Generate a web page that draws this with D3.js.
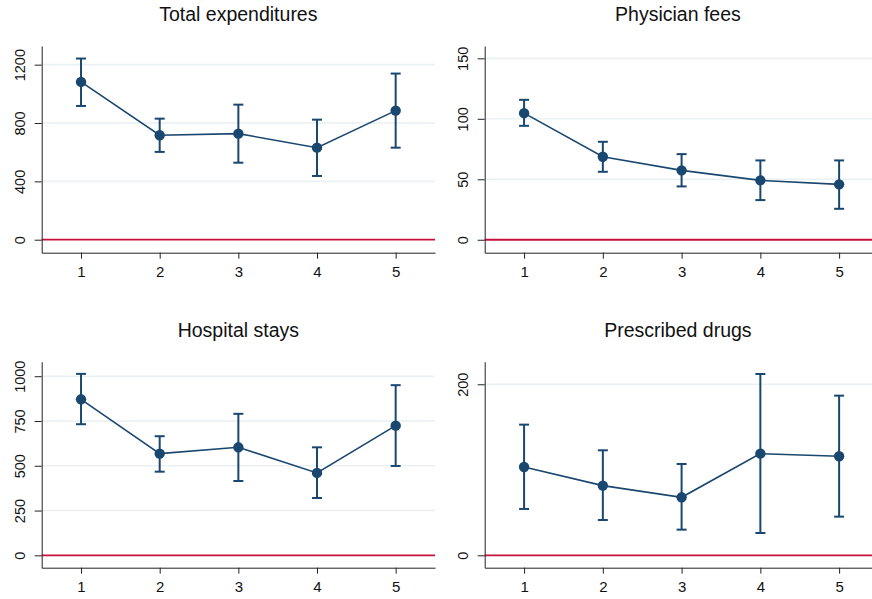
<!DOCTYPE html>
<html>
<head>
<meta charset="utf-8">
<script src="https://cdn.jsdelivr.net/npm/d3@7"></script>
<style>
  body { margin: 0; background: #fff; overflow: hidden; }
  svg { display: block; font-family: "Liberation Sans", Arial, sans-serif; }
</style>
</head>
<body>
<svg width="872" height="599"></svg>
<script>
// groups on the x axis
var groups = [1, 2, 3, 4, 5];

// panel titles
var titles = ["Total expenditures", "Physician fees", "Hospital stays", "Prescribed drugs"];

// point estimates and confidence bounds, one array per panel
var totalMean = [1082, 716, 727, 631, 885];
var totalLow  = [917, 602, 528, 437, 631];
var totalHigh = [1242, 830, 926, 823, 1139];

var physMean = [104.7, 68.6, 57.4, 49.1, 45.8];
var physLow  = [94.2, 56.2, 44.1, 32.8, 25.6];
var physHigh = [115.7, 81.0, 70.8, 65.6, 65.6];

var hospMean = [871, 568, 603, 460, 724];
var hospLow  = [732, 467, 415, 320, 499];
var hospHigh = [1013, 665, 790, 603, 950];

var drugMean = [103.3, 81.5, 67.8, 118.9, 115.8];
var drugLow  = [54.2, 41.3, 30.0, 26.1, 45.2];
var drugHigh = [152.8, 122.8, 106.8, 212.0, 186.7];

// y tick labels per panel
var yTicks = [[0, 400, 800, 1200], [0, 50, 100, 150], [0, 250, 500, 750, 1000], [0, 200]];
// y ranges per panel (as stata padded them)
var yDomains = [[-89, 1328], [-10.7, 160.2], [-69, 1081], [-14.5, 226.4]];

var means = [totalMean, physMean, hospMean, drugMean];
var lows = [totalLow, physLow, hospLow, drugLow];
var highs = [totalHigh, physHigh, hospHigh, drugHigh];

var navy = "#1a476f";
var red = "#c8103c";

var svg = d3.select("svg");

// plot box for each panel (right column runs off the edge of the picture)
var lefts = [41.7, 484.7], rights = [435, 878.5];
var tops = [46, 361.7], bottoms = [252.7, 567.7];

titles.forEach(function(title, i) {
    var col = i % 2, row = Math.floor(i / 2);
    var x0 = lefts[col], x1 = rights[col];
    var y0 = tops[row], y1 = bottoms[row];

    var x = d3.scaleLinear().domain([0.5, 5.5]).range([x0, x1]);
    var y = d3.scaleLinear().domain(yDomains[i]).range([y1, y0]);

    var g = svg.append("g").attr("class", "panel");

    // gridlines
    g.selectAll(".grid")
     .data(yTicks[i].filter(function(t) { return t != 0; }))
     .enter().append("line")
     .attr("x1", x0).attr("x2", x1)
     .attr("y1", function(d) { return y(d); })
     .attr("y2", function(d) { return y(d); })
     .attr("stroke", "#e9f1f3")
     .attr("stroke-width", 1.6);

    // zero reference line
    g.append("line")
     .attr("x1", x0).attr("x2", x1)
     .attr("y1", y(0)).attr("y2", y(0))
     .attr("stroke", red)
     .attr("stroke-width", 1.8);

    // y axis
    var yAxis = g.append("g")
        .attr("transform", "translate(" + x0 + ",0)")
        .call(d3.axisLeft(y).tickValues(yTicks[i]).tickSize(7).tickSizeOuter(0).tickFormat(d3.format("d")));
    yAxis.select(".domain").attr("stroke", "#222");
    yAxis.selectAll(".tick line").attr("stroke", "#222");
    yAxis.selectAll(".tick text")
        .attr("transform", "rotate(-90)")
        .attr("x", 0).attr("y", -17).attr("dy", 0)
        .style("text-anchor", "middle")
        .style("font-size", "14.5px")
        .attr("fill", "#111");

    // x axis
    var xAxis = g.append("g")
        .attr("transform", "translate(0," + y1 + ")")
        .call(d3.axisBottom(x).tickValues(groups).tickSize(6).tickSizeOuter(0).tickFormat(d3.format("d")));
    xAxis.select(".domain").attr("stroke", "#222");
    xAxis.selectAll(".tick line").attr("stroke", "#222");
    xAxis.selectAll(".tick text")
        .attr("y", 24).attr("dy", 0)
        .style("font-size", "15px")
        .attr("fill", "#111");

    // title
    g.append("text")
     .attr("x", (x0 + x1) / 2 - (col == 1 ? 3.7 : 0))
     .attr("y", y0 - 25)
     .attr("text-anchor", "middle")
     .style("font-size", "19.5px")
     .attr("fill", "#111")
     .text(title);

    var data = groups.map(function(k, j) {
        return { k: k, m: means[i][j], lo: lows[i][j], hi: highs[i][j] };
    });

    // error bars
    var bars = g.selectAll(".ci").data(data).enter().append("g").attr("class", "ci");
    bars.append("line")
        .attr("x1", function(d) { return x(d.k); }).attr("x2", function(d) { return x(d.k); })
        .attr("y1", function(d) { return y(d.lo); }).attr("y2", function(d) { return y(d.hi); })
        .attr("stroke", navy).attr("stroke-width", 2);
    bars.append("line")
        .attr("x1", function(d) { return x(d.k) - 5; }).attr("x2", function(d) { return x(d.k) + 5; })
        .attr("y1", function(d) { return y(d.lo); }).attr("y2", function(d) { return y(d.lo); })
        .attr("stroke", navy).attr("stroke-width", 2);
    bars.append("line")
        .attr("x1", function(d) { return x(d.k) - 5; }).attr("x2", function(d) { return x(d.k) + 5; })
        .attr("y1", function(d) { return y(d.hi); }).attr("y2", function(d) { return y(d.hi); })
        .attr("stroke", navy).attr("stroke-width", 2);

    // connecting line
    g.append("path")
     .datum(data)
     .attr("fill", "none")
     .attr("stroke", navy)
     .attr("stroke-width", 1.6)
     .attr("d", d3.line().x(function(d) { return x(d.k); }).y(function(d) { return y(d.m); }));

    // markers
    g.selectAll(".pt").data(data).enter().append("circle")
     .attr("cx", function(d) { return x(d.k); })
     .attr("cy", function(d) { return y(d.m); })
     .attr("r", 5.2)
     .attr("fill", navy);
});
</script>
</body>
</html>
